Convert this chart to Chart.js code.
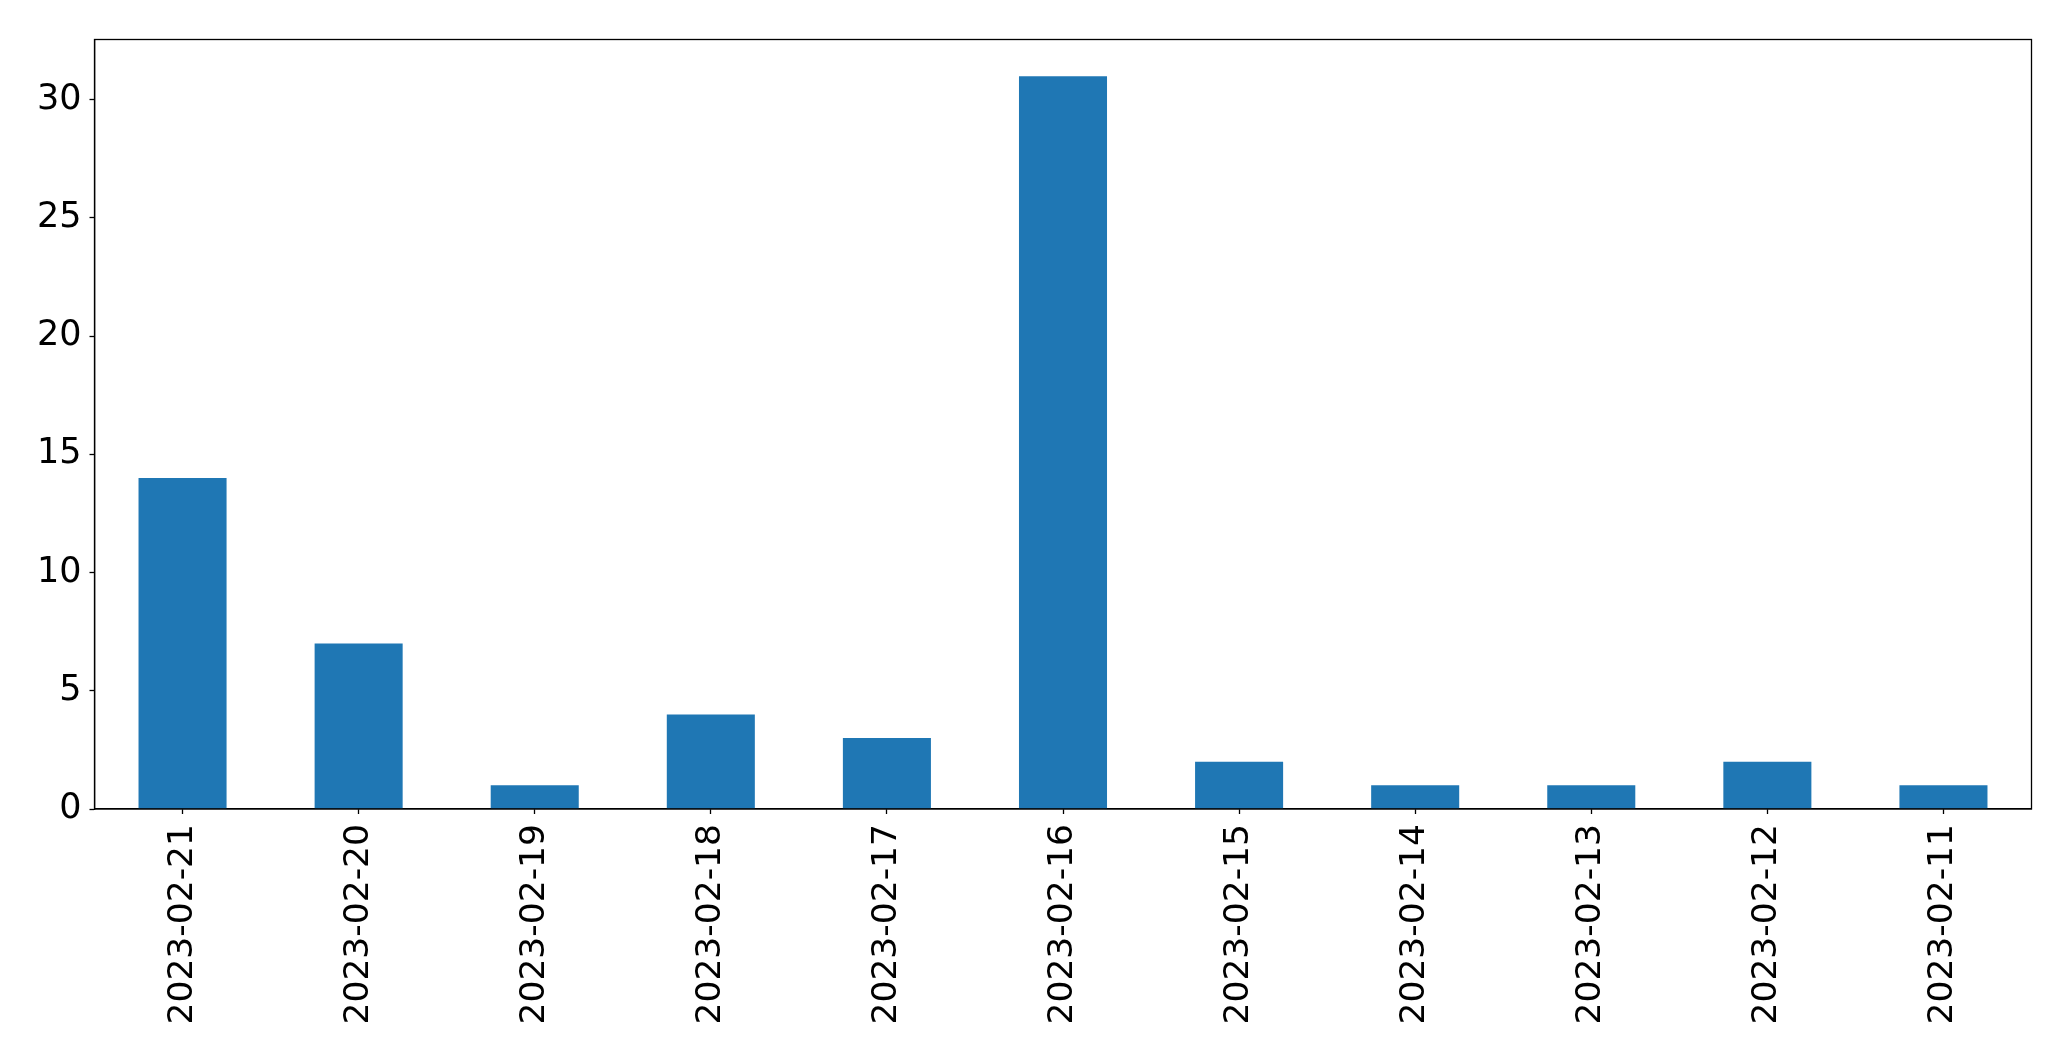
<!DOCTYPE html>
<html>
<head>
<meta charset="utf-8">
<script src="https://cdn.jsdelivr.net/npm/chart.js@4.4.0/dist/chart.umd.min.js"></script>
<style>
html,body{margin:0;padding:0;background:#fff;}
#wrap{width:2071px;height:1061px;position:relative;}
</style>
</head>
<body>
<div id="wrap"><canvas id="c" width="2071" height="1061"></canvas></div>
<script>
const categories = ["2023-02-21","2023-02-20","2023-02-19","2023-02-18","2023-02-17","2023-02-16","2023-02-15","2023-02-14","2023-02-13","2023-02-12","2023-02-11"];
const counts = [14, 7, 1, 4, 3, 31, 2, 1, 1, 2, 1];
const yTicks = [0, 5, 10, 15, 20, 25, 30];
const yMax = 32.55;

const frame = {
  id: 'frame',
  afterDraw(chart) {
    const {ctx, chartArea: a} = chart;
    ctx.save();
    ctx.strokeStyle = '#000';
    ctx.lineWidth = 1.3;
    ctx.strokeRect(a.left, a.top, a.right - a.left, a.bottom - a.top);
    ctx.restore();
  }
};

new Chart(document.getElementById('c'), {
  type: 'bar',
  data: {
    labels: categories,
    datasets: [{
      data: counts,
      backgroundColor: '#1f77b4',
      borderWidth: 0,
      categoryPercentage: 1.0,
      barPercentage: 0.5
    }]
  },
  options: {
    responsive: false,
    animation: false,
    devicePixelRatio: 1,
    layout: { padding: { top: 39.5, right: 39.5, left: 0, bottom: 0 } },
    plugins: { legend: { display: false }, tooltip: { enabled: false } },
    scales: {
      x: {
        offset: true,
        grid: { offset: false, drawOnChartArea: false, drawTicks: true, tickLength: 5, tickColor: '#000', tickWidth: 1.3 },
        border: { display: true, color: '#000', width: 1.3 },
        ticks: { color: '#000', font: { family: 'DejaVu Sans', size: 34.5 }, minRotation: 90, maxRotation: 90, padding: 10, autoSkip: false },
        afterFit(s) { s.height = 252; }
      },
      y: {
        min: 0,
        max: yMax,
        afterBuildTicks(s) { s.ticks = yTicks.map(v => ({ value: v })); },
        grid: { drawOnChartArea: false, drawTicks: true, tickLength: 5, tickColor: '#000', tickWidth: 1.3 },
        border: { display: true, color: '#000', width: 1.3 },
        ticks: { color: '#000', font: { family: 'DejaVu Sans', size: 35 }, padding: 8 },
        afterFit(s) { s.width = 94.5; }
      }
    }
  },
  plugins: [frame]
});
</script>
</body>
</html>
